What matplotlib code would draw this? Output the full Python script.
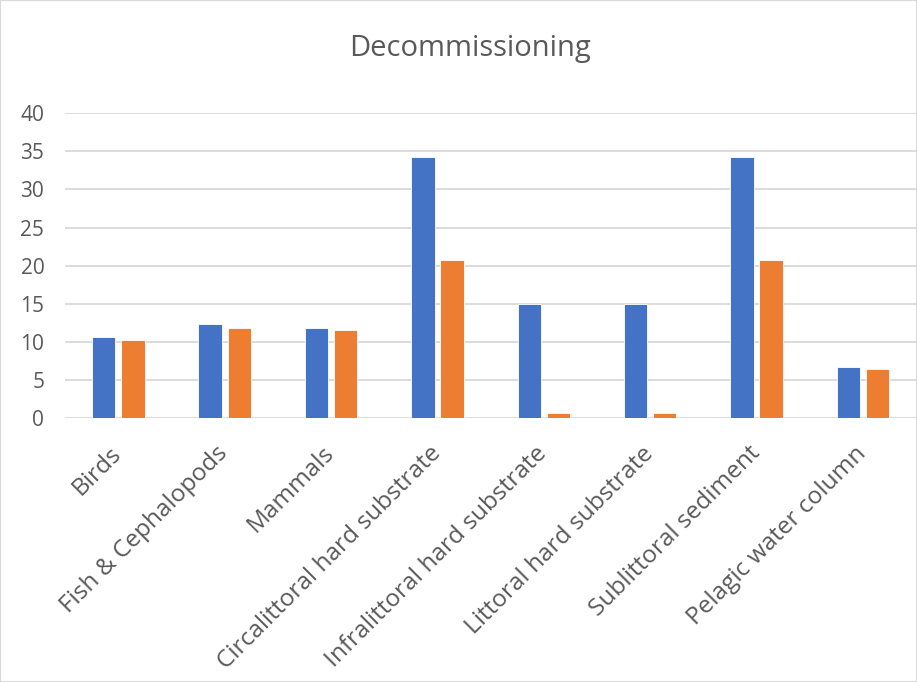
import numpy as np
import matplotlib.pyplot as plt
from matplotlib.patches import Rectangle

plt.rcParams['font.family'] = ['Open Sans', 'DejaVu Sans']

categories = ['Birds', 'Fish & Cephalopods', 'Mammals', 'Circalittoral hard substrate',
              'Infralittoral hard substrate', 'Littoral hard substrate',
              'Sublittoral sediment', 'Pelagic water column']
series_blue = [10.65, 12.3, 11.8, 34.2, 15.0, 15.0, 34.2, 6.7]
series_orange = [10.3, 11.8, 11.5, 20.7, 0.65, 0.65, 20.7, 6.5]
yticks = [0, 5, 10, 15, 20, 25, 30, 35, 40]

grey = '#595959'
fig = plt.figure(figsize=(9.17, 6.82), dpi=100)
ax = fig.add_axes([0.071, 0.387, 0.928, 0.447])

x = np.arange(len(categories))
w = 0.22
ax.bar(x - 0.137, series_blue, w, color='#4472c4', edgecolor='white', linewidth=0.6, zorder=3)
ax.bar(x + 0.137, series_orange, w, color='#ed7d31', edgecolor='white', linewidth=0.6, zorder=3)

ax.set_xlim(-0.5, len(categories) - 0.5)
ax.set_ylim(0, 40)
ax.set_yticks(yticks)
ax.yaxis.grid(True, color='#d9d9d9', linewidth=1.3, zorder=0)
ax.set_axisbelow(True)
for s in ax.spines.values():
    s.set_visible(False)
ax.tick_params(axis='both', length=0, colors=grey)
ax.tick_params(axis='y', pad=15, labelsize=15)
ax.set_xticks(x)
ax.set_xticklabels(categories, rotation=45, ha='right', va='center',
                   rotation_mode='anchor', fontsize=17.6)
ax.tick_params(axis='x', pad=23)

fig.text(0.513, 0.918, 'Decommissioning', ha='center', va='baseline', fontsize=21, color=grey)

fig.patches.append(Rectangle((0, 0), 1, 1, transform=fig.transFigure, fill=False,
                             edgecolor='#d9d9d9', linewidth=1.5))

fig.savefig('out.png', dpi=100)
